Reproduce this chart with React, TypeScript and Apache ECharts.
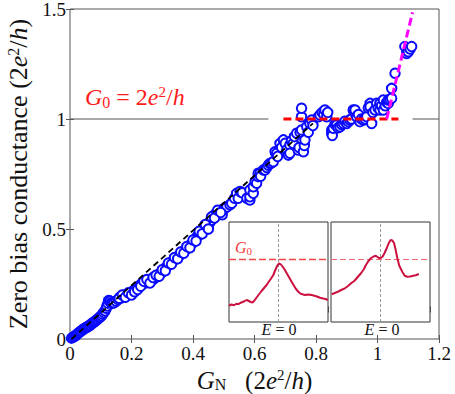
import React, { useEffect, useRef } from "react";
import * as echarts from "echarts";

// Main scatter: zero-bias conductance vs normal-state conductance (units of 2e^2/h)
const points: [number, number][] = [
  [0.005, 0.004], [0.01, 0.008], [0.014, 0.012], [0.018, 0.015], [0.022, 0.02], [0.026, 0.025],
  [0.03, 0.03], [0.034, 0.034], [0.038, 0.038], [0.042, 0.043], [0.046, 0.047], [0.05, 0.05],
  [0.054, 0.053], [0.058, 0.056], [0.062, 0.06], [0.066, 0.064], [0.07, 0.069], [0.074, 0.073],
  [0.078, 0.077], [0.082, 0.081], [0.086, 0.086], [0.09, 0.09], [0.094, 0.096], [0.098, 0.1],
  [0.102, 0.106], [0.106, 0.113], [0.11, 0.12], [0.114, 0.128], [0.118, 0.14], [0.12, 0.15],
  [0.123, 0.163], [0.126, 0.175], [0.13, 0.172], [0.134, 0.165], [0.138, 0.162], [0.143, 0.165],
  [0.15, 0.172], [0.156, 0.18], [0.162, 0.19], [0.166, 0.186], [0.17, 0.192], [0.176, 0.195],
  [0.18, 0.2], [0.185, 0.198], [0.19, 0.205], [0.195, 0.208], [0.2, 0.212], [0.205, 0.218],
  [0.21, 0.223], [0.215, 0.228], [0.22, 0.235], [0.225, 0.24], [0.23, 0.248], [0.235, 0.252],
  [0.24, 0.255], [0.245, 0.255], [0.25, 0.258], [0.255, 0.26], [0.26, 0.262], [0.265, 0.266],
  [0.27, 0.27], [0.275, 0.276], [0.28, 0.282], [0.285, 0.288], [0.29, 0.295], [0.295, 0.3],
  [0.3, 0.305], [0.305, 0.312], [0.31, 0.32], [0.315, 0.33], [0.32, 0.338], [0.325, 0.342],
  [0.33, 0.348], [0.335, 0.355], [0.34, 0.362], [0.345, 0.37], [0.35, 0.372], [0.355, 0.378],
  [0.36, 0.385], [0.365, 0.392], [0.37, 0.398], [0.375, 0.405], [0.38, 0.41], [0.385, 0.418],
  [0.39, 0.425], [0.395, 0.432], [0.4, 0.44], [0.405, 0.448], [0.41, 0.458], [0.415, 0.468],
  [0.42, 0.475], [0.425, 0.482], [0.43, 0.49], [0.435, 0.5], [0.44, 0.505], [0.447, 0.5],
  [0.45, 0.512], [0.455, 0.53], [0.46, 0.54], [0.465, 0.552], [0.47, 0.565], [0.475, 0.572],
  [0.48, 0.57], [0.485, 0.575], [0.49, 0.585], [0.495, 0.565], [0.5, 0.59], [0.505, 0.598],
  [0.51, 0.6], [0.52, 0.61], [0.526, 0.617], [0.535, 0.64], [0.542, 0.662], [0.547, 0.64],
  [0.553, 0.67], [0.56, 0.665], [0.575, 0.64], [0.585, 0.632], [0.585, 0.647], [0.585, 0.677],
  [0.596, 0.662], [0.596, 0.692], [0.602, 0.715], [0.607, 0.708], [0.612, 0.738], [0.612, 0.753],
  [0.618, 0.753], [0.62, 0.74], [0.629, 0.768], [0.634, 0.768], [0.64, 0.78], [0.645, 0.79],
  [0.65, 0.798], [0.655, 0.8], [0.661, 0.806], [0.667, 0.851], [0.672, 0.844], [0.675, 0.83],
  [0.683, 0.889], [0.688, 0.87], [0.694, 0.905], [0.7, 0.89], [0.705, 0.86], [0.71, 0.836],
  [0.715, 0.882], [0.715, 0.844], [0.72, 0.9], [0.726, 0.889], [0.73, 0.92], [0.737, 0.935],
  [0.742, 0.859], [0.745, 0.87], [0.748, 0.94], [0.753, 0.95], [0.753, 1.01], [0.753, 1.049],
  [0.759, 0.851], [0.762, 0.88], [0.764, 0.905], [0.77, 0.965], [0.775, 0.94], [0.78, 0.98],
  [0.786, 0.995], [0.79, 0.97], [0.808, 1.01], [0.813, 1.018], [0.82, 1.03], [0.825, 1.022],
  [0.829, 1.041], [0.835, 1.01], [0.838, 1.03], [0.851, 0.935], [0.851, 0.95], [0.853, 0.925],
  [0.856, 0.958], [0.862, 0.975], [0.867, 0.973], [0.872, 0.96], [0.878, 0.965], [0.883, 0.975],
  [0.889, 0.98], [0.894, 0.99], [0.9, 0.98], [0.905, 0.988], [0.91, 0.995], [0.915, 1.0],
  [0.921, 1.041], [0.925, 1.03], [0.927, 1.041], [0.932, 1.01], [0.938, 1.02], [0.943, 0.988],
  [0.948, 1.0], [0.954, 0.995], [0.96, 1.0], [0.965, 1.01], [0.97, 1.05], [0.976, 1.071],
  [0.976, 1.056], [0.981, 0.98], [0.985, 1.03], [0.992, 1.041], [0.997, 1.071], [1.002, 1.05],
  [1.008, 1.071], [1.008, 1.041], [1.013, 1.06], [1.019, 1.041], [1.019, 1.086], [1.025, 1.06],
  [1.03, 1.075], [1.035, 1.071], [1.035, 1.086], [1.04, 1.09], [1.046, 1.094], [1.046, 1.139],
  [1.057, 1.208], [1.089, 1.329], [1.095, 1.298], [1.1, 1.306], [1.106, 1.318], [1.111, 1.329],
  [0.16, 0.185], [0.17, 0.2], [0.18, 0.19], [0.19, 0.21], [0.2, 0.2], [0.21, 0.215], [0.22, 0.225],
  [0.23, 0.24], [0.24, 0.262], [0.25, 0.27], [0.26, 0.255], [0.27, 0.28], [0.28, 0.29], [0.29, 0.285],
  [0.3, 0.315], [0.31, 0.31], [0.32, 0.345], [0.33, 0.34], [0.34, 0.37], [0.35, 0.365], [0.36, 0.395],
  [0.37, 0.39], [0.38, 0.42], [0.39, 0.415], [0.4, 0.45], [0.41, 0.445], [0.42, 0.49], [0.43, 0.478],
  [0.44, 0.52], [0.45, 0.5], [0.46, 0.555], [0.47, 0.55], [0.48, 0.585], [0.49, 0.575],
];

// Reference lines (data coordinates)
const g0LineLeft: [number, number][] = [[0, 1], [0.645, 1]];
const g0LineRight: [number, number][] = [[1.114, 1], [1.2, 1]];
const linearFit: [number, number][] = [[0.005, 0], [0.79, 0.98]];
const plateauFit: [number, number][] = [[0.694, 1], [1.068, 1]];
const riseFit: [number, number][] = [[1.03, 1.0], [1.114, 1.485]];

// Inset spectra (E axis -2..2, conductance in arbitrary units, G0 = 2)
const inset1: [number, number][] = [
  [-2, 0.15], [-1.9, 0.2], [-1.8, 0.17], [-1.7, 0.23], [-1.62, 0.21], [-1.55, 0.26], [-1.45, 0.3],
  [-1.38, 0.33], [-1.29, 0.38], [-1.2, 0.34], [-1.12, 0.3], [-1.05, 0.28], [-0.98, 0.35], [-0.9, 0.46],
  [-0.81, 0.58], [-0.7, 0.72], [-0.6, 0.84], [-0.48, 0.98], [-0.4, 1.1], [-0.3, 1.24], [-0.21, 1.38],
  [-0.12, 1.6], [-0.05, 1.75], [0.02, 1.85], [0.1, 1.8], [0.18, 1.7], [0.26, 1.58], [0.35, 1.42],
  [0.45, 1.25], [0.53, 1.11], [0.62, 0.96], [0.7, 0.83], [0.8, 0.71], [0.9, 0.63], [1.0, 0.6],
  [1.07, 0.58], [1.2, 0.6], [1.34, 0.58], [1.45, 0.55], [1.55, 0.52], [1.68, 0.47], [1.8, 0.44],
  [1.9, 0.42], [1.99, 0.38],
];
const inset2: [number, number][] = [
  [-1.97, 0.61], [-1.85, 0.66], [-1.7, 0.72], [-1.59, 0.78], [-1.45, 0.84], [-1.3, 0.95], [-1.19, 1.05],
  [-1.05, 1.15], [-0.92, 1.3], [-0.79, 1.45], [-0.68, 1.6], [-0.59, 1.78], [-0.5, 1.92], [-0.39, 2.05],
  [-0.28, 2.12], [-0.19, 2.15], [-0.12, 2.1], [-0.05, 2.05], [0.02, 2.07], [0.08, 2.11], [0.16, 2.25],
  [0.25, 2.45], [0.33, 2.65], [0.41, 2.78], [0.48, 2.76], [0.55, 2.65], [0.62, 2.35], [0.68, 2.05],
  [0.76, 1.75], [0.88, 1.51], [0.98, 1.35], [1.08, 1.31], [1.2, 1.32], [1.32, 1.35], [1.42, 1.37],
  [1.55, 1.42],
];
const insetG0: [number, number][] = [[-2, 2], [2, 2]];
const insetZero: [number, number][] = [[0, -0.5], [0, 3.5]];
const insetYTicks = [0, 1, 2, 3];

const FONT = "'Liberation Serif', 'Times New Roman', serif";

export default function App() {
  const ref = useRef<HTMLDivElement>(null);
  useEffect(() => {
    if (!ref.current) return;
    const chart = echarts.init(ref.current, null, { renderer: "svg" });
    const frame = "#555";
    const tick = (len: number, show = true) => ({ show, inside: true, length: len, lineStyle: { color: frame, width: 1 } });
    const mainX = (pos: "bottom" | "top", labels: boolean) => ({
      type: "value", gridIndex: 0, position: pos, min: 0, max: 1.2, interval: 0.2,
      axisLine: { show: false }, axisTick: tick(4), splitLine: { show: false },
      axisLabel: { show: labels, fontFamily: FONT, fontSize: 19, color: "#111", margin: 5 },
      ...(labels ? {
        name: "{i|G}{sub|N}   (2{i|e}{sup|2}/{i|h})", nameLocation: "middle", nameGap: 26,
        nameTextStyle: {
          fontFamily: FONT, fontSize: 25, color: "#111",
          rich: {
            i: { fontFamily: FONT, fontSize: 25, fontStyle: "italic", color: "#111" },
            sub: { fontFamily: FONT, fontSize: 16, color: "#111", padding: [9, 0, 0, 0] },
            sup: { fontFamily: FONT, fontSize: 15, color: "#111", padding: [0, 0, 10, 0] },
          },
        },
      } : {}),
    });
    const mainY = (pos: "left" | "right", labels: boolean) => ({
      type: "value", gridIndex: 0, position: pos, min: 0, max: 1.5, interval: 0.5,
      axisLine: { show: false }, axisTick: tick(4), splitLine: { show: false },
      axisLabel: { show: labels, fontFamily: FONT, fontSize: 19, color: "#111", margin: 4 },
      ...(labels ? {
        name: "Zero bias conductance (2{i|e}{sup|2}/{i|h})", nameLocation: "middle", nameGap: 37, nameRotate: 90,
        nameTextStyle: {
          fontFamily: FONT, fontSize: 26, color: "#111",
          rich: {
            i: { fontFamily: FONT, fontSize: 26, fontStyle: "italic", color: "#111" },
            sup: { fontFamily: FONT, fontSize: 16, color: "#111", padding: [0, 0, 10, 0] },
          },
        },
      } : {}),
    });
    const insetX = (g: number, pos: "bottom" | "top") => ({
      type: "value", gridIndex: g, position: pos, min: -2, max: 2, interval: 1,
      axisLine: { show: false }, axisTick: tick(3), axisLabel: { show: false }, splitLine: { show: false },
    });
    const insetY = (g: number, pos: "left" | "right") => ({
      type: "value", gridIndex: g, position: pos, min: -0.5, max: 3.5,
      axisLine: { show: false },
      axisTick: { ...tick(3), customValues: insetYTicks },
      axisLabel: { show: false, customValues: insetYTicks }, splitLine: { show: false },
    });
    const line = (data: [number, number][], color: string, width: number, type: any, xi = 0, yi = 0, z = 3) => ({
      type: "line", data, xAxisIndex: xi, yAxisIndex: yi, symbol: "none", silent: true, z,
      lineStyle: { color, width, type },
    });

    chart.setOption({
      animation: false,
      backgroundColor: "#fff",
      grid: [
        { left: 70, top: 9, width: 369, height: 330, outerBoundsMode: "none", containLabel: false, show: true, borderColor: frame, borderWidth: 1, backgroundColor: "transparent" },
        { left: 229, top: 222, width: 99, height: 100, outerBoundsMode: "none", containLabel: false, show: true, borderColor: "#333", borderWidth: 1, backgroundColor: "#fff", z: 5 },
        { left: 331, top: 222, width: 99, height: 100, outerBoundsMode: "none", containLabel: false, show: true, borderColor: "#333", borderWidth: 1, backgroundColor: "#fff", z: 5 },
      ],
      xAxis: [mainX("bottom", true), mainX("top", false), insetX(1, "bottom"), insetX(1, "top"), insetX(2, "bottom"), insetX(2, "top")],
      yAxis: [mainY("left", true), mainY("right", false), insetY(1, "left"), insetY(1, "right"), insetY(2, "left"), insetY(2, "right")],
      series: [
        line(g0LineLeft, "#555", 1.2, "solid"),
        line(g0LineRight, "#555", 1.2, "solid"),
        {
          type: "scatter", data: points, xAxisIndex: 0, yAxisIndex: 0, symbol: "emptyCircle", symbolSize: 9.5, z: 2,
          itemStyle: { color: "#0a0aff", borderColor: "#0a0aff", borderWidth: 1.7, opacity: 1 },
          silent: true,
        },
        line(linearFit, "#000", 1.8, [6, 4]),
        line(plateauFit, "#ff0000", 3, [8, 4]),
        line(riseFit, "#ff00ff", 3, [8, 4]),
        line(insetZero, "#999", 1, [3, 2], 2, 2, 6),
        line(insetG0, "#f04848", 1.4, [7, 3], 2, 2, 6),
        line(inset1, "#cc1040", 2, "solid", 2, 2, 7),
        line(insetZero, "#999", 1, [3, 2], 4, 4, 6),
        line(insetG0, "#f26a6a", 1.1, [6, 3], 4, 4, 6),
        line(inset2, "#cc1040", 2, "solid", 4, 4, 7),
      ],
      graphic: [
        {
          type: "text", x: 85, y: 97, z: 10,
          style: {
            text: "{i|G}{sub|0} = 2{i|e}{sup|2}/{i|h}", fill: "#ff1a1a", fontFamily: FONT, fontSize: 24, verticalAlign: "middle",
            rich: {
              i: { fontFamily: FONT, fontSize: 24, fontStyle: "italic", fill: "#ff1a1a" },
              sub: { fontFamily: FONT, fontSize: 16, fill: "#ff1a1a", padding: [10, 0, 0, 0] },
              sup: { fontFamily: FONT, fontSize: 15, fill: "#ff1a1a", padding: [0, 0, 10, 0] },
            },
          },
        },
        {
          type: "text", x: 235, y: 247, z: 10,
          style: {
            text: "{i|G}{sub|0}", fill: "#f03c3c", fontFamily: FONT, fontSize: 16, verticalAlign: "middle",
            rich: {
              i: { fontFamily: FONT, fontSize: 16, fontStyle: "italic", fill: "#f03c3c" },
              sub: { fontFamily: FONT, fontSize: 11, fill: "#f03c3c", padding: [7, 0, 0, 0] },
            },
          },
        },
        {
          type: "text", x: 279, y: 329, z: 10,
          style: {
            text: "{i|E} = 0", fill: "#111", fontFamily: FONT, fontSize: 16, align: "center", verticalAlign: "middle",
            rich: { i: { fontFamily: FONT, fontSize: 16, fontStyle: "italic", fill: "#111" } },
          },
        },
        {
          type: "text", x: 382, y: 329, z: 10,
          style: {
            text: "{i|E} = 0", fill: "#111", fontFamily: FONT, fontSize: 16, align: "center", verticalAlign: "middle",
            rich: { i: { fontFamily: FONT, fontSize: 16, fontStyle: "italic", fill: "#111" } },
          },
        },
      ],
    });
    return () => chart.dispose();
  }, []);
  return <div ref={ref} style={{ width: 455, height: 394, position: "absolute", left: 0, top: 0 }} />;
}
